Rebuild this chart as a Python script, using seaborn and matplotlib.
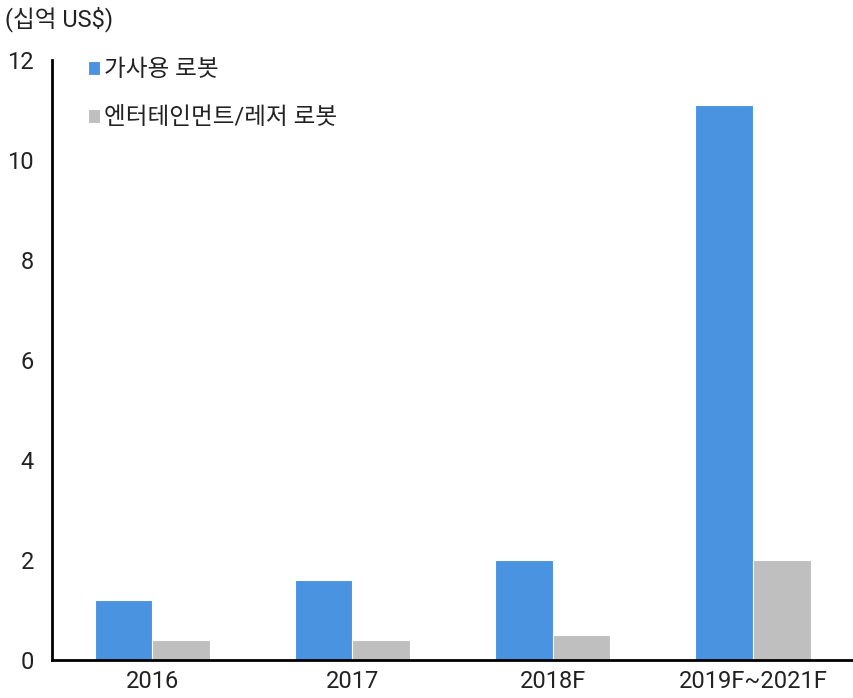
import pandas as pd
import matplotlib
matplotlib.use("Agg")
import matplotlib.pyplot as plt
import seaborn as sns

# 데이터
categories = ["2016", "2017", "2018F", "2019F~2021F"]
series_names = ["가사용 로봇", "엔터테인먼트/레저 로봇"]
home_robot = [1.2, 1.6, 2.0, 11.1]
leisure_robot = [0.4, 0.4, 0.5, 2.0]
y_ticks = [0, 2, 4, 6, 8, 10, 12]
unit_label = "(십억 US$)"

colors = ["#4A93E0", "#BFBFBF"]

df = pd.DataFrame({
    "연도": categories * 2,
    "값": home_robot + leisure_robot,
    "구분": [series_names[0]] * 4 + [series_names[1]] * 4,
})

sns.set_style("white")
plt.rcParams["font.family"] = ["Roboto", "Noto Sans CJK KR", "DejaVu Sans"]

fig = plt.figure(figsize=(8.54, 6.98), dpi=100)
ax = fig.add_axes([0.061, 0.0545, 0.938, 0.8595])

sns.barplot(data=df, x="연도", y="값", hue="구분", palette=colors,
            width=0.575, gap=0, edgecolor="white", linewidth=0.8,
            saturation=1, ax=ax)

ax.set_xlim(-0.5, 3.5)
ax.set_ylim(0, 12)
ax.set_yticks(y_ticks)
ax.set_yticklabels([str(t) for t in y_ticks], fontsize=17, color="#222222")
ax.set_xticklabels(categories, fontsize=17, color="#222222")
ax.set_xlabel("")
ax.set_ylabel("")

# 카테고리 경계의 작은 눈금
ax.set_xticks([0.5, 1.5, 2.5], minor=True)
ax.tick_params(axis="x", which="major", length=0, pad=7)
ax.tick_params(axis="x", which="minor", direction="in", length=6, width=1.5, color="black")
ax.tick_params(axis="y", direction="in", length=6, width=1.5, color="black", pad=13)

for s in ["top", "right"]:
    ax.spines[s].set_visible(False)
for s in ["left", "bottom"]:
    ax.spines[s].set_color("black")
    ax.spines[s].set_linewidth(2)

leg = ax.legend(loc="upper left", bbox_to_anchor=(0.018, 1.038), frameon=False,
                fontsize=17, handlelength=0.5, handleheight=0.5,
                handletextpad=0.2, labelspacing=1.05)
for t in leg.get_texts():
    t.set_color("#222222")

fig.text(0.006, 0.972, unit_label, fontsize=17, color="#222222", va="center", ha="left")

fig.savefig("out.png", dpi=100)
